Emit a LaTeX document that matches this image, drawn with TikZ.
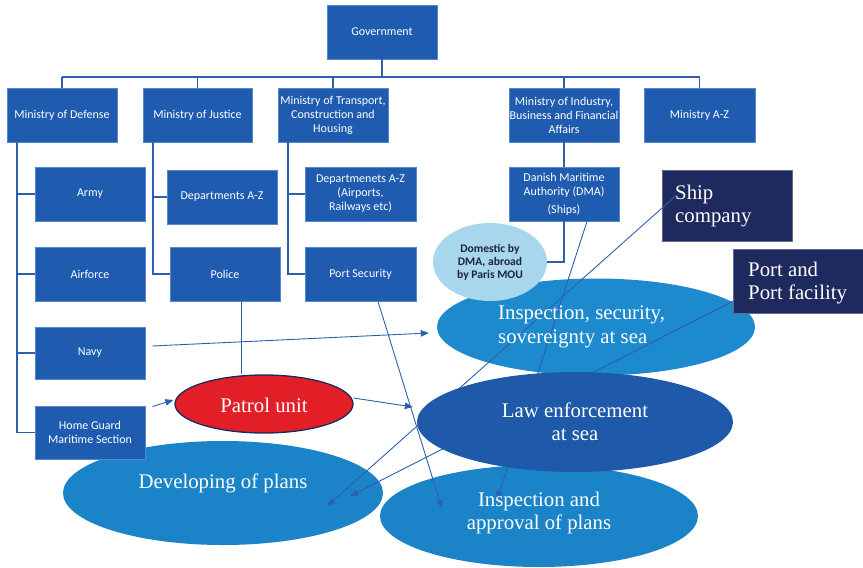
\documentclass[tikz,border=0pt]{standalone}
\usepackage{fontspec}
\setmainfont{Liberation Serif}
\setsansfont{Carlito}
\usetikzlibrary{arrows.meta,shapes.geometric}

\definecolor{boxblue}{RGB}{31,91,174}
\definecolor{boxedge}{RGB}{86,134,204}
\definecolor{wireblue}{RGB}{45,95,172}
\definecolor{seablue}{RGB}{30,138,206}
\definecolor{planblue}{RGB}{27,132,200}
\definecolor{lawblue}{RGB}{31,89,170}
\definecolor{paleblue}{RGB}{168,214,236}
\definecolor{navybox}{RGB}{30,42,94}
\definecolor{patrolred}{RGB}{226,30,38}
\definecolor{inktext}{RGB}{28,36,58}

\begin{document}
\begin{tikzpicture}[x=1pt,y=-1pt,
  orgbox/.style={draw=boxedge, line width=0.8pt, fill=boxblue, text=white,
    font=\sffamily\fontsize{12}{14}\selectfont, align=center, inner sep=0pt,
    minimum width=110pt, minimum height=54pt},
  darkbox/.style={draw=navybox!70!white, line width=0.6pt, fill=navybox, inner sep=0pt},
  sea/.style={ellipse, inner sep=0pt, draw=none},
  bigtext/.style={text=white, font=\fontsize{20.8}{23.5}\selectfont, inner sep=0pt},
  wire/.style={draw=wireblue, line width=1.8pt},
  flow/.style={draw=wireblue, line width=0.9pt, -{Triangle[length=8pt,width=6.5pt]}},
  plain/.style={draw=wireblue, line width=0.9pt}
]
\useasboundingbox (0,0) rectangle (863,568);

% ---- activity ellipses (lower layer) ----
\node[sea, fill=planblue, minimum width=318pt, minimum height=102pt] (appr) at (539,516) {};
\node[sea, fill=seablue, minimum width=318pt, minimum height=97pt] (isea) at (596,327) {};
\node[sea, fill=planblue, minimum width=320pt, minimum height=104pt] (dev) at (223,493) {};
\node[sea, fill=paleblue, minimum width=114pt, minimum height=78pt, text=inktext,
  font=\sffamily\bfseries\fontsize{11.6}{13}\selectfont, align=center] (dom) at (490,262)
  {Domestic by\\DMA, abroad\\by Paris MOU};

% ---- organisation chart ----
\node[orgbox] (gov) at (382,32) {Government};

\node[orgbox] (def) at (62,115) {Ministry of Defense};
\node[orgbox, minimum width=109pt] (jus) at (197.5,115) {Ministry of Justice};
\node[orgbox] (tra) at (333,115) {Ministry of Transport,\\Construction and\\Housing};
\node[orgbox] (ind) at (564,115) {Ministry of Industry,\\Business and Financial\\Affairs};
\node[orgbox, minimum width=111pt] (maz) at (699.5,115) {Ministry A-Z};

\node[orgbox] (army) at (90,194) {Army};
\node[orgbox] (air) at (90,274) {Airforce};
\node[orgbox, minimum height=52pt] (navy) at (90,353) {Navy};
\node[orgbox, minimum height=53pt] (hg) at (90,432.5) {Home Guard\\Maritime Section};

\node[orgbox] (depj) at (222,197) {Departments A-Z};
\node[orgbox] (police) at (225,274) {Police};

\node[orgbox, minimum width=111pt] (dept) at (360.5,194) {Departmenets A-Z\\(Airports,\\Railways etc)};
\node[orgbox, minimum width=111pt] (portsec) at (360.5,274) {Port Security};

\node[orgbox] (dma) at (564,194) {Danish Maritime\\Authority (DMA)\\[4pt](Ships)};

% tree connectors
\coordinate (bus) at (0,77);
\coordinate (dspine) at (17,0);
\coordinate (jspine) at (153,0);
\coordinate (tspine) at (288,0);
\draw[wire] (gov.south) -- (gov.south |- bus);
\draw[wire] (def.north |- bus) -- (maz.north |- bus);
\foreach \m in {def,jus,tra,ind,maz}
  \draw[wire] (\m.north |- bus) -- (\m.north);

\draw[wire] (def.south -| dspine) -- (hg.west -| dspine) -- (hg.west);
\foreach \m in {army,air,navy}
  \draw[wire] (\m.west -| dspine) -- (\m.west);

\draw[wire] (jus.south -| jspine) -- (police.west -| jspine) -- (police.west);
\draw[wire] (depj.west -| jspine) -- (depj.west);

\draw[wire] (tra.south -| tspine) -- (portsec.west -| tspine) -- (portsec.west);
\draw[wire] (dept.west -| tspine) -- (dept.west);

\draw[wire] (ind.south) -- (dma.north);
\draw[wire] (dma.south) -- (dma.south |- dom.east) -- (dom.east);

% ---- stakeholders ----
\node[darkbox, minimum width=130pt, minimum height=71pt] (ship) at (727,205.5) {};
\node[bigtext, anchor=west, align=left] at (675,206) {Ship\\company};
\node[darkbox, minimum width=131pt, minimum height=64pt] (port) at (798.5,281) {};
\node[bigtext, anchor=west, align=left] at (748,283) {Port and\\Port facility};

% ---- patrol unit ----
\node[sea, fill=patrolred, draw=navybox, line width=1.3pt,
  minimum width=178pt, minimum height=58pt] (patrol) at (264,404) {};
\node[bigtext, anchor=base] at (264,412) {Patrol unit};

% ---- flows ----
\draw[flow] ([xshift=7pt,yshift=7pt]navy.east) -- ([xshift=-8pt,yshift=-6pt]isea.west);
\draw[flow] ([xshift=7pt,yshift=-1pt]hg.north east) -- ([xshift=-1pt,yshift=4pt]patrol.west);
\draw[plain] ([xshift=16pt]police.south) -- ([xshift=16pt]police.south |- patrol.north);
\draw[flow] ([xshift=17.5pt]portsec.south) -- ([xshift=62pt,yshift=8pt]appr.west);
\draw[flow] ([xshift=15pt,yshift=10.5pt]ship.west) -- ([xshift=-56pt,yshift=-13pt]dev.east);
\draw[flow] ([xshift=23pt]dma.south) -- ([xshift=-42pt,yshift=-35pt]appr.north);
\draw[flow] ([xshift=2pt,yshift=13pt]port.south west) -- ([xshift=-33pt,yshift=-3pt]dev.east);

% ---- law enforcement (front layer) ----
\node[sea, fill=lawblue, minimum width=316pt, minimum height=100pt] (law) at (575,422) {};
\draw[flow] ([yshift=6pt]patrol.east) -- ([xshift=-4pt,yshift=15pt]law.west);

% ---- ellipse captions ----
\node[bigtext, anchor=west, align=left] at (498,327) {Inspection, security,\\sovereignty at sea};
\node[bigtext, align=center] at (575,422) {Law enforcement\\at sea};
\node[bigtext, align=center] at (539,513) {Inspection and\\approval of plans};
\node[bigtext] at (223,483) {Developing of plans};
\end{tikzpicture}
\end{document}
